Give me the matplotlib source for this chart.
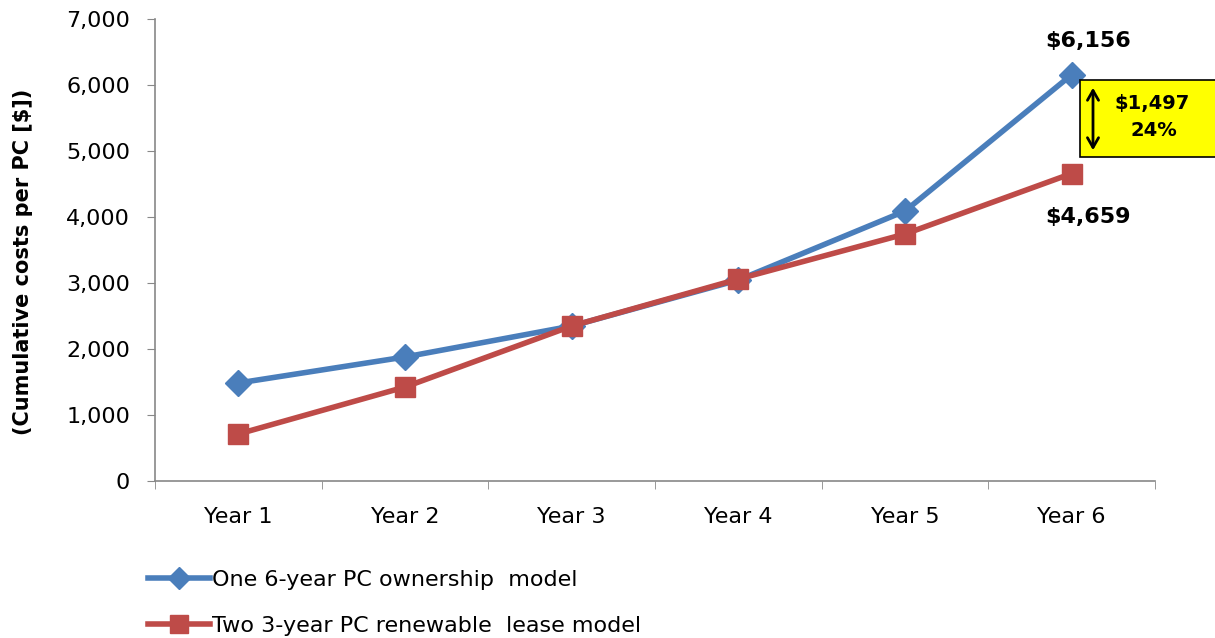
import matplotlib
matplotlib.use('Agg')
from matplotlib import pyplot as plt
from matplotlib.patches import FancyArrowPatch, Rectangle
from matplotlib.ticker import FuncFormatter, FixedLocator

years = ['Year 1', 'Year 2', 'Year 3', 'Year 4', 'Year 5', 'Year 6']
ownership = [1485, 1879, 2348, 3045, 4090, 6156]
lease = [712, 1424, 2348, 3060, 3742, 4659]
label_own = 'One 6-year PC ownership  model'
label_lease = 'Two 3-year PC renewable  lease model'
diff_value = '$1,497'
diff_pct = '24%'

blue = '#4A7EBB'
red = '#BE4B48'

plt.rcParams['font.family'] = ['DejaVu Sans']

fig = plt.figure(figsize=(12.15, 6.38), dpi=100)
ax = fig.add_axes([155 / 1215, 1 - 481 / 638, 1000 / 1215, 462 / 638])

x = list(range(len(years)))
# the lease series sits on top, as in the original
ax.plot(x, ownership, color=blue, lw=4, marker='D', markersize=13,
        label=label_own, zorder=2)
ax.plot(x, lease, color=red, lw=4, marker='s', markersize=15,
        label=label_lease, zorder=3)

ax.set_xlim(-0.5, len(years) - 0.5)
ax.set_ylim(0, 7000)
ax.set_yticks(range(0, 7001, 1000))
ax.yaxis.set_major_formatter(FuncFormatter(lambda v, p: f'{int(v):,}'))
ax.set_xticks(x)
ax.set_xticklabels(years)
ax.xaxis.set_minor_locator(FixedLocator([i - 0.5 for i in range(len(years) + 1)]))
ax.tick_params(axis='x', which='major', length=0, pad=19, labelsize=16)
ax.tick_params(axis='x', which='minor', length=6, color='#888888', direction='out')
ax.tick_params(axis='y', length=6, color='#888888', labelsize=16, pad=12)

for side in ['top', 'right']:
    ax.spines[side].set_visible(False)
for side in ['left', 'bottom']:
    ax.spines[side].set_color('#888888')
    ax.spines[side].set_linewidth(1.2)

ax.set_ylabel('(Cumulative costs per PC [$])', fontsize=15, fontweight='bold')
ax.yaxis.set_label_coords(-0.122, 0.474)

# value labels at Year 6
ax.annotate(f'${ownership[-1]:,}', (x[-1], ownership[-1]), xytext=(11.5, 24.5),
            textcoords='offset points', ha='center', va='center',
            fontsize=16, fontweight='bold')
ax.annotate(f'${lease[-1]:,}', (x[-1], lease[-1]), xytext=(11.5, -31.5),
            textcoords='offset points', ha='center', va='center',
            fontsize=16, fontweight='bold')

# difference box
box = Rectangle((1080 / 1215, 1 - 157 / 638), 0.2, 77 / 638, transform=fig.transFigure,
                facecolor='#FFFF00', edgecolor='black', lw=1.2, clip_on=False, zorder=4)
fig.patches.append(box)
arrow = FancyArrowPatch((1093 / 1215, 1 - 85 / 638), (1093 / 1215, 1 - 153 / 638),
                        transform=fig.transFigure, arrowstyle='<->,head_width=4,head_length=7',
                        color='black', lw=2, zorder=5)
fig.patches.append(arrow)
fig.text(1152 / 1215, 1 - 104 / 638, diff_value, fontsize=14, fontweight='bold',
         ha='center', va='center', zorder=6)
fig.text(1154 / 1215, 1 - 131 / 638, diff_pct, fontsize=14, fontweight='bold',
         ha='center', va='center', zorder=6)

leg = fig.legend(loc='upper left', bbox_to_anchor=(148 / 1215, 1 - 570 / 638),
                 frameon=False, fontsize=16, handlelength=2.8, handletextpad=0.1,
                 labelspacing=1.15, borderaxespad=0, borderpad=0, markerscale=0.85)

fig.savefig('out.png', dpi=100)
